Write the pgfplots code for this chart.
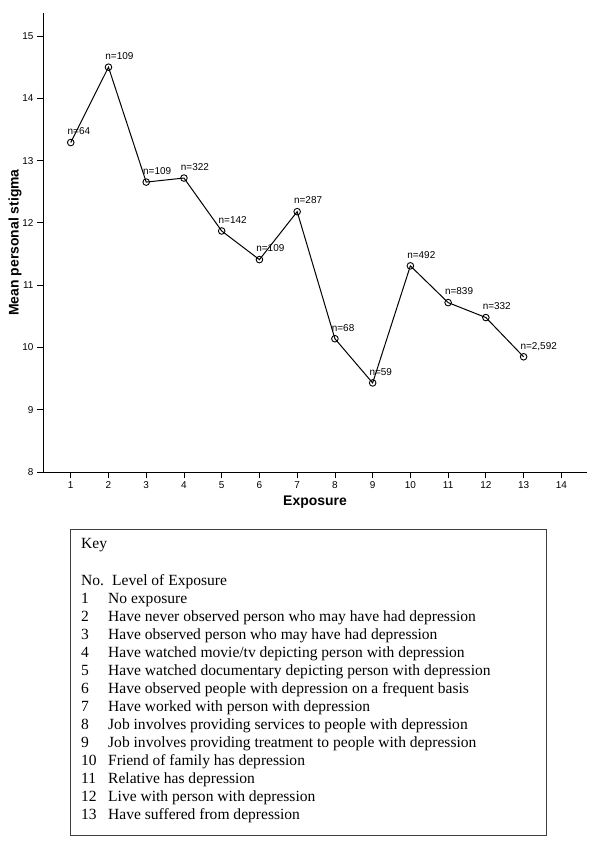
\documentclass[border=0pt]{standalone}
\usepackage{pgfplots}
\pgfplotsset{compat=1.18}
\usepackage{fontspec}
\setmainfont{Liberation Serif}
\newfontfamily\arial{Liberation Sans}
\newcommand\keyline[3]{%
  \node[keytext] at (81bp,-#1bp) {#2};
  \node[keytext] at (108bp,-#1bp) {#3};}
\begin{document}
\begin{tikzpicture}[keytext/.style={anchor=base west, inner sep=0pt, font=\fontsize{15.6}{18}\selectfont}]
\useasboundingbox (0,0) rectangle (600bp,-847bp);
\begin{axis}[
  at={(43bp,-472bp)}, anchor=south west,
  scale only axis, width=544bp, height=459bp,
  xmin=0.265, xmax=14.68, ymin=8, ymax=15.37,
  axis lines=left, axis line style={-, line width=0.8bp},
  xtick={1,...,14}, ytick={8,...,15},
  tick align=outside, major tick length=6bp,
  tick style={line width=0.8bp, black},
  ticklabel style={font=\arial\fontsize{10}{12}\selectfont},
  /pgf/number format/assume math mode=true,
  xlabel={Exposure}, ylabel={Mean personal stigma},
  label style={font=\arial\bfseries\fontsize{14}{16}\selectfont},
  xlabel style={at={(axis description cs:0.5,-0.0654)}, anchor=center},
  ylabel style={at={(axis description cs:-0.0515,0.5)}, anchor=center},
  clip=false,
]
\addplot[black, line width=1bp, mark=o, mark size=3.3bp, mark options={line width=0.9bp},
  nodes near coords, point meta=explicit symbolic,
  every node near coord/.append style={anchor=base west, inner sep=0pt, xshift=-3.5bp, yshift=7.7bp, font=\arial\fontsize{10}{12}\selectfont}]
coordinates {
(1,13.29) [n=64]
(2,14.50) [n=109]
(3,12.655) [n=109]
(4,12.72) [n=322]
(5,11.87) [n=142]
(6,11.41) [n=109]
(7,12.18) [n=287]
(8,10.14) [n=68]
(9,9.43) [n=59]
(10,11.31) [n=492]
(11,10.72) [n=839]
(12,10.48) [n=332]
(13,9.85) [n=2,592]
};
\end{axis}
\draw[line width=0.8bp, black!75] (70bp,-529bp) rectangle (546bp,-835bp);
\node[keytext] at (81bp,-548bp) {Key};
\node[keytext] at (81bp,-585bp) {No.};
\node[keytext] at (112bp,-585bp) {Level of Exposure};
\keyline{603}{1}{No exposure}
\keyline{621}{2}{Have never observed person who may have had depression}
\keyline{639}{3}{Have observed person who may have had depression}
\keyline{657}{4}{Have watched movie/tv depicting person with depression}
\keyline{675}{5}{Have watched documentary depicting person with depression}
\keyline{693}{6}{Have observed people with depression on a frequent basis}
\keyline{711}{7}{Have worked with person with depression}
\keyline{729}{8}{Job involves providing services to people with depression}
\keyline{747}{9}{Job involves providing treatment to people with depression}
\keyline{765}{10}{Friend of family has depression}
\keyline{783}{11}{Relative has depression}
\keyline{801}{12}{Live with person with depression}
\keyline{819}{13}{Have suffered from depression}
\end{tikzpicture}
\end{document}
